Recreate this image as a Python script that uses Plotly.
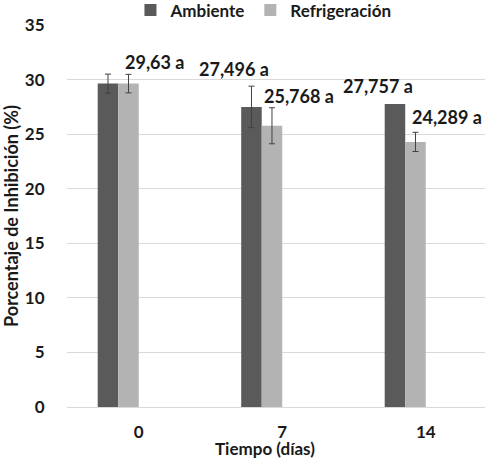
import plotly.graph_objects as go

categories = ["0", "7", "14"]
ambiente = [29.63, 27.496, 27.757]
refrigeracion = [29.63, 25.768, 24.289]
err_ambiente = [0.87, 1.9]          # no error bar shown for day 14
err_refrig = [0.85, 1.65, 0.88]
labels = ["29,63 a", "27,496 a", "25,768 a", "27,757 a", "24,289 a"]
label_cat = [0, 1, 1, 2, 2]
label_dx = [0.108, -0.338, 0.115, -0.334, 0.146]
label_y = [31.6, 30.96, 28.48, 29.4, 26.55]
x_title = "Tiempo (días)"
y_title = "Porcentaje de Inhibición (%)"

FONT = "Lato"
TXT = "#1a1a1a"
xs = list(range(len(categories)))
bw = 0.143

fig = go.Figure()
fig.add_trace(go.Bar(
    x=xs, y=ambiente, name="<b>Ambiente</b>", width=bw, offset=-2 * bw,
    marker=dict(color="#5a5a5a", line=dict(width=0)),
    error_y=dict(type="data", array=err_ambiente, visible=True,
                 color="#404040", thickness=1, width=3),
))
fig.add_trace(go.Bar(
    x=xs, y=refrigeracion, name="<b>Refrigeración</b>", width=bw, offset=-bw,
    marker=dict(color="#b3b3b3", line=dict(width=0)),
    error_y=dict(type="data", array=err_refrig, visible=True,
                 color="#404040", thickness=1, width=3),
))

for t, c, dx, y in zip(labels, label_cat, label_dx, label_y):
    fig.add_annotation(x=c + dx, y=y, text="<b>" + t + "</b>", showarrow=False,
                       font=dict(family=FONT, size=18, color=TXT),
                       xanchor="center", yanchor="middle")

# x-axis title placed as paper annotation to match the reference spacing
fig.add_annotation(x=0.474, y=-0.108, xref="paper", yref="paper",
                   text="<b>" + x_title + "</b>", showarrow=False,
                   font=dict(family=FONT, size=17, color=TXT),
                   xanchor="center", yanchor="middle")

fig.update_layout(
    width=485, height=462,
    margin=dict(l=67, r=0, t=25, b=55, autoexpand=False),
    paper_bgcolor="white", plot_bgcolor="white",
    barmode="overlay",
    font=dict(family=FONT, size=16, color=TXT),
    legend=dict(orientation="h", x=0.47, xanchor="center", y=1.038, yanchor="middle",
                font=dict(family=FONT, size=17, color=TXT),
                itemwidth=30, traceorder="normal", tracegroupgap=0),
    showlegend=True,
)
fig.update_xaxes(
    range=[-0.5, 2.413], tickvals=xs, ticktext=["<b>" + c + "</b>" for c in categories],
    showgrid=False, zeroline=False, showline=False,
    ticks="outside", ticklen=10, tickcolor="white",
    tickfont=dict(family=FONT, size=17, color=TXT),
)
fig.update_yaxes(
    range=[0, 35], dtick=5, showgrid=True, gridcolor="#d9d9d9", gridwidth=1,
    zeroline=True, zerolinecolor="#d9d9d9", zerolinewidth=1,
    showline=False, ticks="outside", ticklen=18, tickcolor="white",
    tickprefix="<b>", ticksuffix="</b>",
    tickfont=dict(family=FONT, size=17, color=TXT),
    title=dict(text="<b>" + y_title + "</b>", font=dict(family=FONT, size=18, color=TXT), standoff=4),
)

fig.write_html("out.html", config={"displayModeBar": False},
               post_script="document.body.style.margin='0';document.body.style.overflow='hidden';")
